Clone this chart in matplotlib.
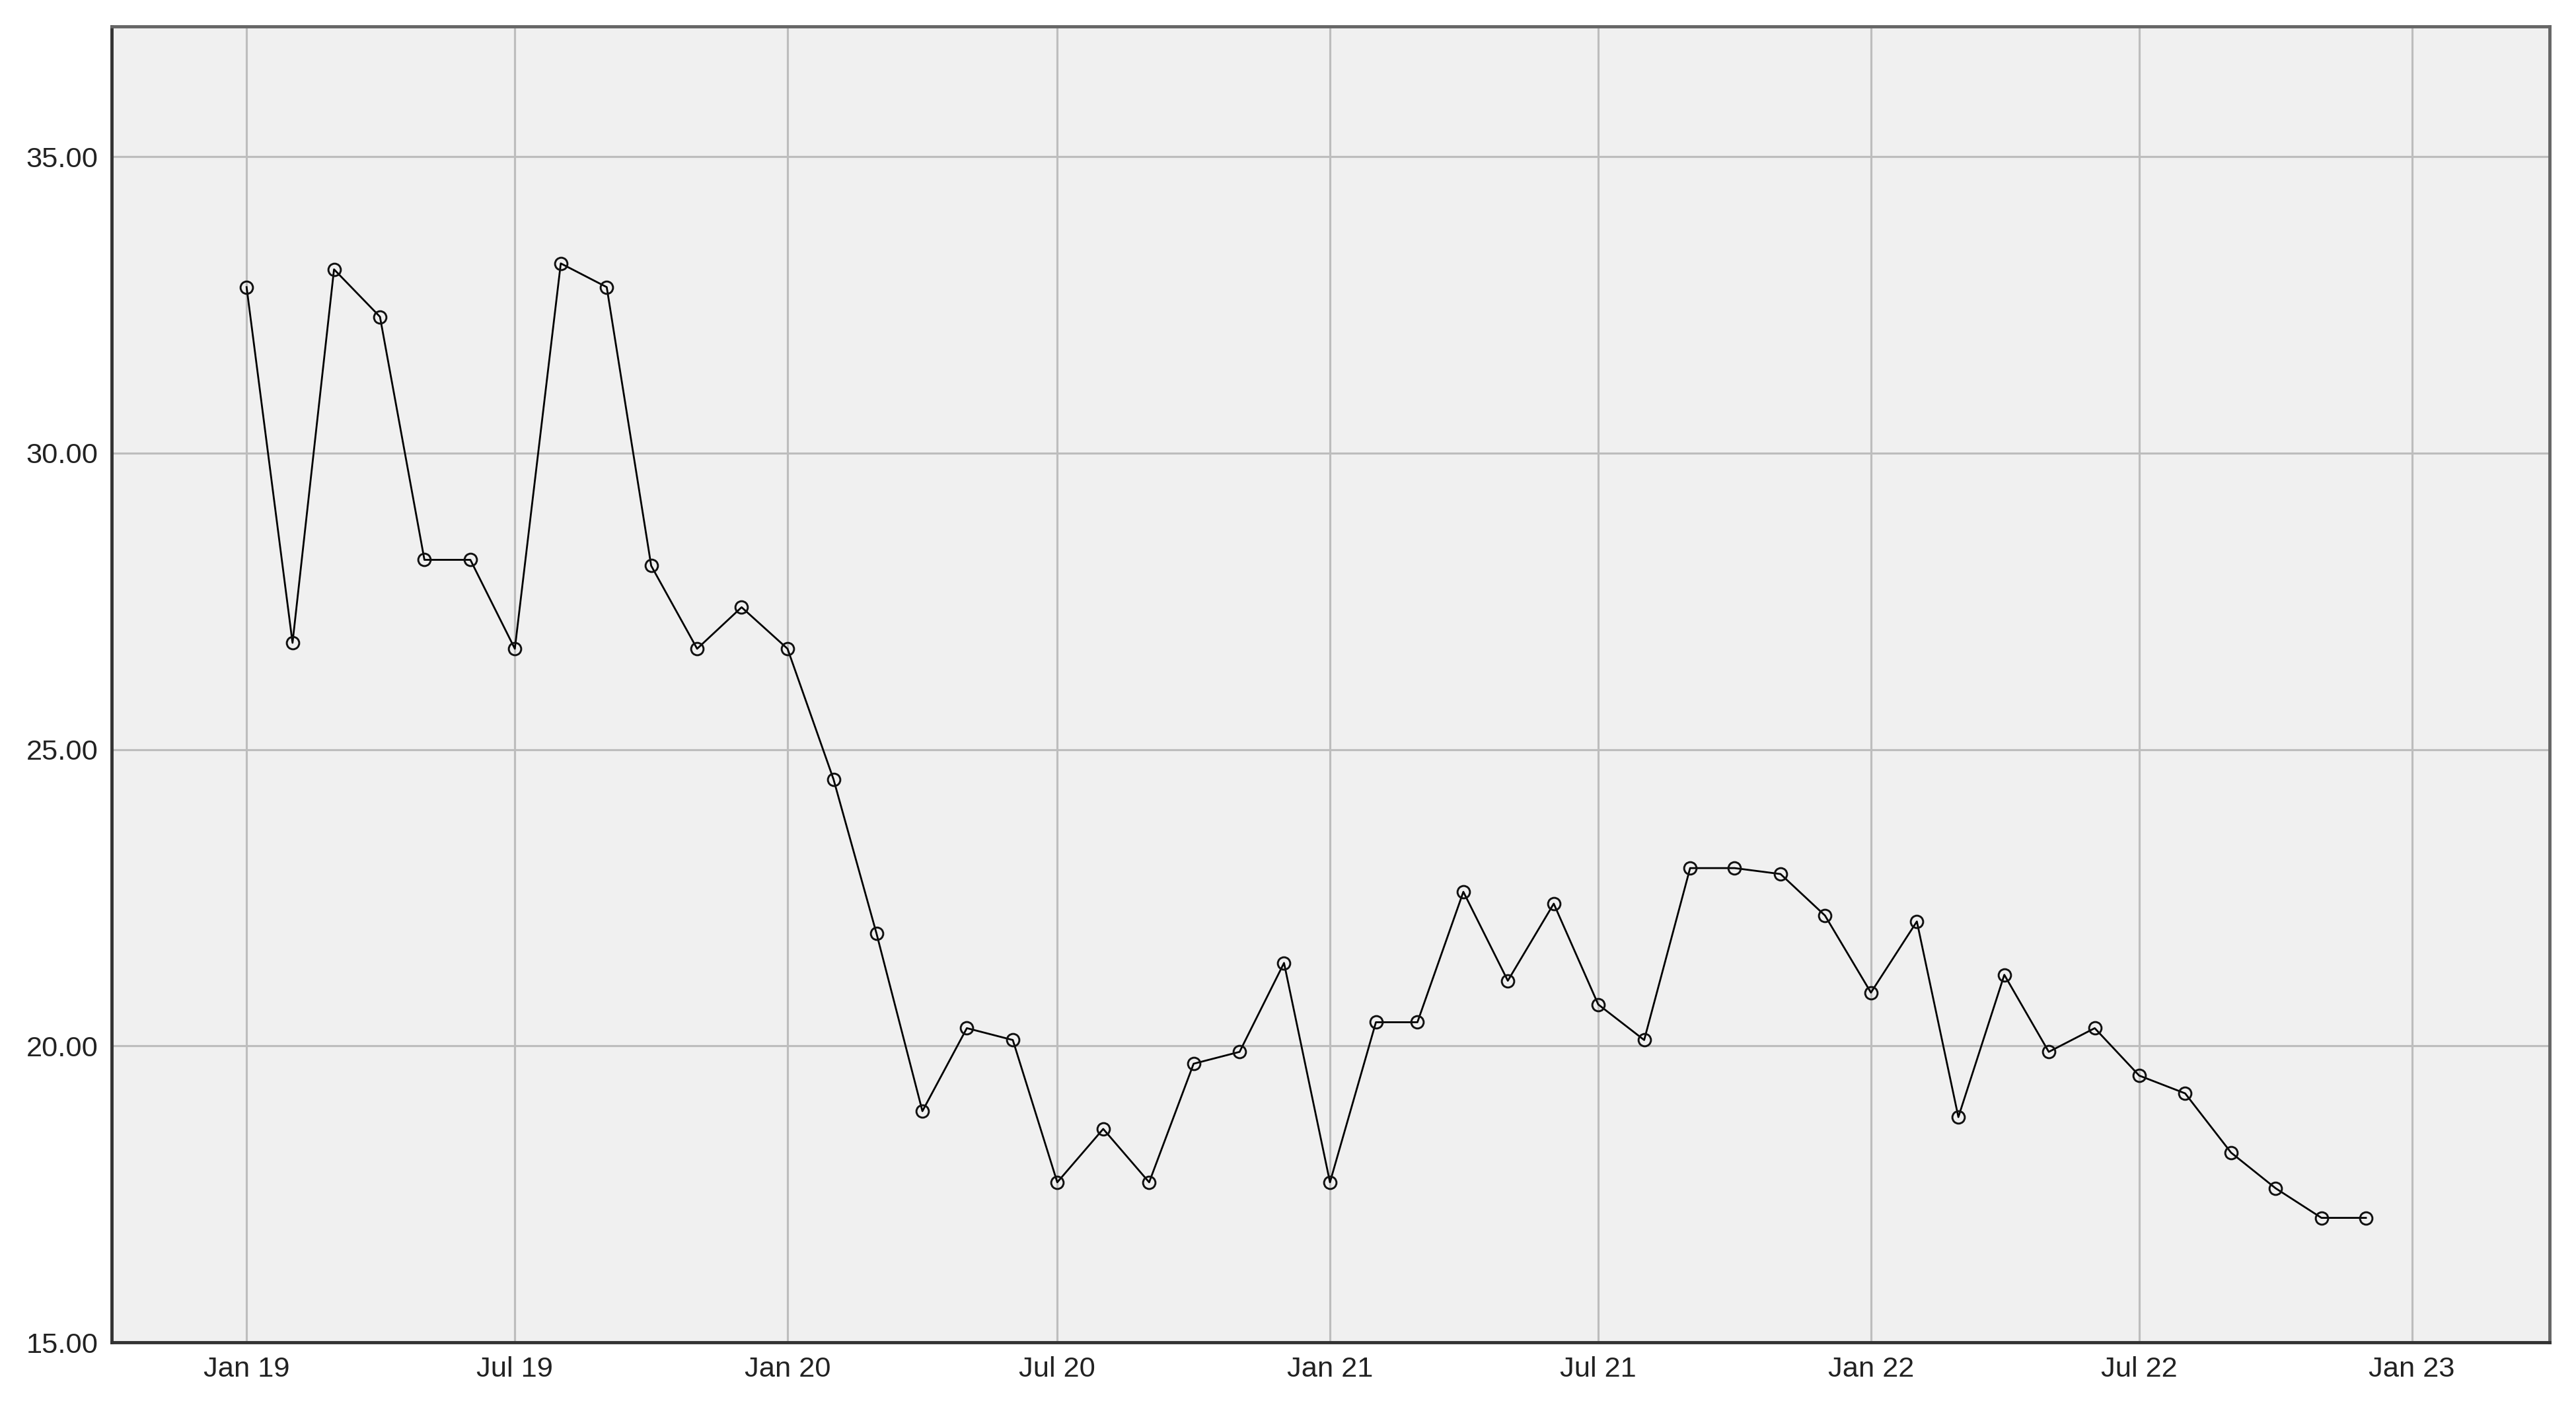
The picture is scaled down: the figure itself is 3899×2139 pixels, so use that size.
import matplotlib
matplotlib.use("Agg")
import matplotlib.pyplot as plt
import matplotlib.dates as mdates
import numpy as np
import pandas as pd

# Monthly values, Jan 2019 .. Dec 2022
months = pd.date_range("2019-01-01", "2022-12-01", freq="MS")
values = [
    32.8, 26.8, 33.1, 32.3, 28.2, 28.2, 26.7, 33.2, 32.8, 28.1, 26.7, 27.4,
    26.7, 24.5, 21.9, 18.9, 20.3, 20.1, 17.7, 18.6, 17.7, 19.7, 19.9, 21.4,
    17.7, 20.4, 20.4, 22.6, 21.1, 22.4, 20.7, 20.1, 23.0, 23.0, 22.9, 22.2,
    20.9, 22.1, 18.8, 21.2, 19.9, 20.3, 19.5, 19.2, 18.2, 17.6, 17.1, 17.1,
]
y_ticks = [15, 20, 25, 30, 35]
x_ticks = pd.date_range("2019-01-01", "2023-01-01", freq="6MS")

plt.rcParams["font.family"] = ["Liberation Sans", "DejaVu Sans"]

DPI = 250
fig = plt.figure(figsize=(3899 / DPI, 2139 / DPI), dpi=DPI)
ax = fig.add_axes([68 / 1568, 1 - 817 / 860, (1552 - 68) / 1568, (817 - 16) / 860])
ax.set_facecolor("#f0f0f0")

ax.plot(months, values, color="black", linewidth=0.8, marker="o",
        markersize=5.4, markerfacecolor="none", markeredgecolor="#111111",
        markeredgewidth=0.85, zorder=3)

ax.set_xlim(pd.Timestamp("2018-10-02"), pd.Timestamp("2023-04-04"))
ax.set_ylim(15, 37.2)
ax.set_xticks(x_ticks)
ax.xaxis.set_major_formatter(mdates.DateFormatter("%b %y"))
ax.set_yticks(y_ticks)
ax.yaxis.set_major_formatter(matplotlib.ticker.FormatStrFormatter("%.2f"))

ax.grid(True, color="#bdbdbd", linewidth=0.9, zorder=0)
ax.set_axisbelow(True)
ax.tick_params(axis="both", length=0, labelsize=12.5, colors="#222222", pad=6)

for side in ["left", "bottom"]:
    ax.spines[side].set_color("#333333")
    ax.spines[side].set_linewidth(1.4)
for side in ["top", "right"]:
    ax.spines[side].set_color("#666666")
    ax.spines[side].set_linewidth(1.4)

fig.savefig("out.png", dpi=DPI)
